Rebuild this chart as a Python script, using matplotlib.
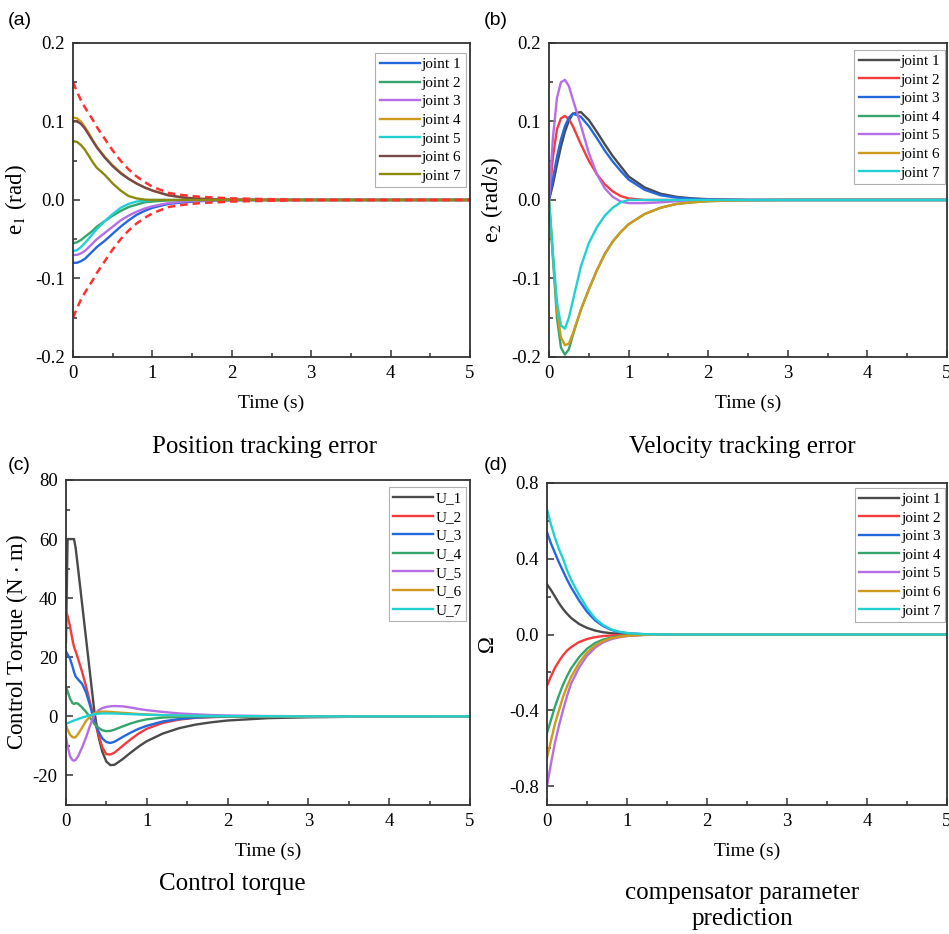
"""
Tracking error, control torque and compensator plots (4 panels)
"""

import matplotlib.pyplot as plt
from matplotlib.ticker import MultipleLocator

plt.rcParams['font.family'] = ['Liberation Serif', 'DejaVu Serif']
plt.rcParams['mathtext.fontset'] = 'stix'
plt.rcParams['axes.unicode_minus'] = False

# ---- data ----
t_a = [0, 0.05, 0.1, 0.15, 0.2, 0.25, 0.3, 0.4, 0.5, 0.6, 0.7, 0.8, 0.9,
       1.0, 1.2, 1.4, 1.6, 1.8, 2.0, 2.5, 3.0, 5.0]

e1_joint1 = [-0.080, -0.080, -0.078, -0.075, -0.070, -0.065, -0.060, -0.052, -0.043, -0.034, -0.026,
             -0.019, -0.014, -0.010, -0.005, -0.003, -0.0015, -0.0007, -0.0003, 0, 0, 0]
e1_joint2 = [-0.055, -0.054, -0.051, -0.047, -0.043, -0.039, -0.034, -0.027, -0.020, -0.014, -0.009,
             -0.006, -0.003, -0.002, -0.0005, 0, 0, 0, 0, 0, 0, 0]
e1_joint3 = [-0.070, -0.070, -0.068, -0.065, -0.060, -0.055, -0.050, -0.042, -0.034, -0.026, -0.020,
             -0.015, -0.011, -0.008, -0.004, -0.002, -0.001, -0.0005, 0, 0, 0, 0]
e1_joint4 = [0.105, 0.104, 0.100, 0.093, 0.085, 0.076, 0.068, 0.055, 0.044, 0.035, 0.027,
             0.021, 0.016, 0.012, 0.006, 0.003, 0.0015, 0.0007, 0.0003, 0, 0, 0]
e1_joint5 = [-0.065, -0.064, -0.060, -0.055, -0.049, -0.043, -0.037, -0.027, -0.018, -0.010, -0.005,
             -0.002, -0.001, 0, 0, 0, 0, 0, 0, 0, 0, 0]
e1_joint6 = [0.100, 0.100, 0.097, 0.091, 0.083, 0.075, 0.067, 0.054, 0.043, 0.034, 0.027,
             0.021, 0.016, 0.012, 0.006, 0.003, 0.0015, 0.0007, 0.0003, 0, 0, 0]
e1_joint7 = [0.075, 0.074, 0.070, 0.064, 0.056, 0.048, 0.041, 0.032, 0.021, 0.012, 0.005,
             0.002, 0.0005, 0, 0, 0, 0, 0, 0, 0, 0, 0]
e1_bound = [0.150, 0.138, 0.127, 0.118, 0.110, 0.102, 0.093, 0.078, 0.063, 0.050, 0.039,
            0.030, 0.023, 0.017, 0.009, 0.006, 0.004, 0.003, 0.002, 0.001, 0, 0]

t_b = t_a
e2_joint1 = [0, 0.020, 0.045, 0.068, 0.087, 0.101, 0.110, 0.112, 0.102, 0.087, 0.071,
             0.056, 0.043, 0.030, 0.016, 0.008, 0.004, 0.002, 0.001, 0, 0, 0]
e2_joint2 = [0, 0.055, 0.090, 0.104, 0.107, 0.103, 0.094, 0.071, 0.050, 0.033, 0.020,
             0.011, 0.005, 0.002, 0, 0, 0, 0, 0, 0, 0, 0]
e2_joint3 = [0, 0.027, 0.055, 0.077, 0.094, 0.105, 0.110, 0.106, 0.094, 0.079, 0.063,
             0.049, 0.037, 0.026, 0.013, 0.006, 0.003, 0.0015, 0.0005, 0, 0, 0]
e2_joint4 = [0, -0.075, -0.150, -0.188, -0.197, -0.190, -0.172, -0.140, -0.114, -0.090, -0.069,
             -0.053, -0.041, -0.031, -0.018, -0.010, -0.005, -0.003, -0.0015, -0.0003, 0, 0]
e2_joint5 = [0, 0.080, 0.130, 0.150, 0.153, 0.145, 0.128, 0.095, 0.060, 0.033, 0.015,
             0.004, -0.002, -0.004, -0.004, -0.003, -0.0015, -0.0005, 0, 0, 0, 0]
e2_joint6 = [0, -0.070, -0.140, -0.175, -0.185, -0.183, -0.170, -0.140, -0.114, -0.090, -0.069,
             -0.053, -0.041, -0.031, -0.018, -0.010, -0.005, -0.003, -0.0015, -0.0003, 0, 0]
e2_joint7 = [0, -0.070, -0.130, -0.160, -0.164, -0.150, -0.128, -0.085, -0.055, -0.035, -0.020,
             -0.010, -0.003, 0, 0, 0, 0, 0, 0, 0, 0, 0]

t_c = [0, 0.02, 0.05, 0.08, 0.1, 0.12, 0.15, 0.2, 0.25, 0.3, 0.35, 0.4, 0.45, 0.5, 0.55,
       0.6, 0.7, 0.8, 0.9, 1.0, 1.2, 1.4, 1.6, 1.8, 2.0, 2.5, 3.0, 3.5, 4.0, 5.0]
U_1 = [25, 60, 60, 60, 60, 57, 50, 38, 26, 14, 2, -6.5, -12, -15.3, -16.5,
       -16.4, -14.5, -12.3, -10.2, -8.4, -5.8, -4.0, -2.8, -2.0, -1.4, -0.6, -0.3, -0.15, -0.08, 0]
U_2 = [35.5, 34, 30.5, 26, 23.5, 22, 19.5, 15, 10, 4.5, -1, -6, -10.5, -12.8, -12.9,
       -12.3, -10, -7.8, -5.8, -4.2, -2.2, -1.1, -0.5, -0.25, -0.1, 0, 0, 0, 0, 0]
U_3 = [22, 21, 19.5, 17, 15, 13.5, 12.5, 11, 8, 3.5, -1.5, -5, -7.5, -8.7, -9,
       -8.6, -7, -5.5, -4.2, -3.2, -1.7, -0.9, -0.4, -0.2, -0.1, 0, 0, 0, 0, 0]
U_4 = [10, 8.5, 6, 4.5, 4.2, 4.5, 4.3, 3, 1.5, -0.5, -2.5, -3.8, -4.7, -5, -4.9,
       -4.5, -3.4, -2.4, -1.6, -1.0, -0.4, -0.15, -0.05, 0, 0, 0, 0, 0, 0, 0]
U_5 = [-7, -10, -13.5, -14.8, -15, -14.7, -13.5, -10.5, -7, -3, 0.5, 2, 2.8, 3.2, 3.4,
       3.5, 3.4, 3.0, 2.5, 2.1, 1.5, 1.0, 0.7, 0.45, 0.3, 0.1, 0.05, 0, 0, 0]
U_6 = [-3, -4.5, -6.2, -7, -7.2, -7, -6, -3.8, -1.5, 0, 1, 1.5, 1.6, 1.6, 1.5,
       1.4, 1.2, 1.0, 0.8, 0.65, 0.4, 0.25, 0.15, 0.1, 0.05, 0, 0, 0, 0, 0]
U_7 = [-2.5, -2.3, -2.0, -1.6, -1.4, -1.2, -0.9, -0.4, 0, 0.4, 0.7, 0.9, 1.0, 1.0, 1.0,
       0.95, 0.85, 0.75, 0.65, 0.55, 0.4, 0.3, 0.2, 0.15, 0.1, 0.05, 0, 0, 0, 0]

t_d = [0, 0.05, 0.1, 0.15, 0.2, 0.25, 0.3, 0.4, 0.5, 0.6, 0.7, 0.8, 0.9, 1.0,
       1.2, 1.4, 1.6, 2.0, 3.0, 5.0]
om_joint1 = [0.265, 0.235, 0.200, 0.165, 0.135, 0.110, 0.088, 0.056, 0.035, 0.021, 0.012,
             0.007, 0.004, 0.002, 0, 0, 0, 0, 0, 0]
om_joint2 = [-0.27, -0.22, -0.175, -0.14, -0.11, -0.085, -0.067, -0.040, -0.024, -0.014, -0.008,
             -0.005, -0.003, -0.0015, 0, 0, 0, 0, 0, 0]
om_joint3 = [0.54, 0.48, 0.43, 0.38, 0.335, 0.29, 0.25, 0.18, 0.12, 0.075, 0.045,
             0.025, 0.013, 0.007, 0.002, 0.0005, 0, 0, 0, 0]
om_joint4 = [-0.52, -0.45, -0.38, -0.32, -0.265, -0.22, -0.18, -0.12, -0.075, -0.045, -0.027,
             -0.016, -0.009, -0.005, -0.0015, 0, 0, 0, 0, 0]
om_joint5 = [-0.80, -0.68, -0.57, -0.48, -0.40, -0.325, -0.26, -0.175, -0.112, -0.07, -0.042,
             -0.025, -0.015, -0.008, -0.0025, -0.0005, 0, 0, 0, 0]
om_joint6 = [-0.65, -0.56, -0.47, -0.40, -0.33, -0.275, -0.225, -0.15, -0.095, -0.058, -0.035,
             -0.020, -0.012, -0.007, -0.002, 0, 0, 0, 0, 0]
om_joint7 = [0.66, 0.58, 0.51, 0.45, 0.40, 0.34, 0.29, 0.21, 0.14, 0.085, 0.05,
             0.028, 0.015, 0.008, 0.002, 0.0005, 0, 0, 0, 0]

joint_names = ["joint 1", "joint 2", "joint 3", "joint 4", "joint 5", "joint 6", "joint 7"]
torque_names = ["U_1", "U_2", "U_3", "U_4", "U_5", "U_6", "U_7"]

# colours
gray = "#4a4a4a"
red = "#f53b3b"
blue = "#2468e0"
green = "#35a56c"
purple = "#b66ee6"
gold = "#d09a1c"
cyan = "#22d0d2"
brown = "#7a4848"
olive = "#8c8a0e"

colors_a = [blue, green, purple, gold, cyan, brown, olive]
colors_std = [gray, red, blue, green, purple, gold, cyan]

fig = plt.figure(figsize=(9.49, 9.34), dpi=100)
ax_a = fig.add_axes([0.0769, 0.6178, 0.4184, 0.3362])
ax_b = fig.add_axes([0.5785, 0.6178, 0.4194, 0.3362])
ax_c = fig.add_axes([0.0695, 0.1381, 0.4258, 0.3480])
ax_d = fig.add_axes([0.5764, 0.1381, 0.4215, 0.3448])


def style_axes(ax, ylim, ymajor, yminor, ylabel, fmt, leg_anchor, ylabelpad=4):
    """common look of each panel"""
    ax.set_xlim(0, 5)
    ax.set_ylim(*ylim)
    ax.xaxis.set_major_locator(MultipleLocator(1))
    ax.xaxis.set_minor_locator(MultipleLocator(0.5))
    ax.yaxis.set_major_locator(MultipleLocator(ymajor))
    ax.yaxis.set_minor_locator(MultipleLocator(yminor))
    ax.yaxis.set_major_formatter(fmt)
    ax.tick_params(which='both', direction='in', top=False, right=False,
                   labelsize=13.5, width=1.1, colors='#333333', labelcolor='black')
    ax.tick_params(which='major', length=5, pad=6)
    ax.tick_params(which='minor', length=3)
    for sp in ax.spines.values():
        sp.set_linewidth(1.3)
        sp.set_color('#333333')
    ax.set_xlabel("Time (s)", fontsize=14, labelpad=9)
    ax.set_ylabel(ylabel, fontsize=16.5, labelpad=ylabelpad)
    leg = ax.legend(loc='upper right', bbox_to_anchor=leg_anchor, borderaxespad=0,
                    fontsize=11, handlelength=2.6, handletextpad=0.15,
                    labelspacing=0.32, borderpad=0.3,
                    fancybox=False, framealpha=1)
    leg.get_frame().set_edgecolor('#b0b0b0')
    leg.get_frame().set_linewidth(0.8)


lw = 1.7

# (a) position tracking error
e1_series = [e1_joint1, e1_joint2, e1_joint3, e1_joint4, e1_joint5, e1_joint6, e1_joint7]
for vals, c, name in zip(e1_series, colors_a, joint_names):
    ax_a.plot(t_a, vals, color=c, lw=lw, label=name)
ax_a.plot(t_a, e1_bound, color='#ff3030', lw=1.8, ls=(0, (3, 2)))
ax_a.plot(t_a, [-v for v in e1_bound], color='#ff3030', lw=1.8, ls=(0, (3, 2)))
style_axes(ax_a, (-0.2, 0.2), 0.1, 0.05, r"e$_1$ (rad)", '{x:.1f}', (0.990, 0.968))

# (b) velocity tracking error
e2_series = [e2_joint1, e2_joint2, e2_joint3, e2_joint4, e2_joint5, e2_joint6, e2_joint7]
for vals, c, name in zip(e2_series, colors_std, joint_names):
    ax_b.plot(t_b, vals, color=c, lw=lw, label=name)
style_axes(ax_b, (-0.2, 0.2), 0.1, 0.05, r"e$_2$ (rad/s)", '{x:.1f}', (0.995, 0.978))

# (c) control torque
u_series = [U_1, U_2, U_3, U_4, U_5, U_6, U_7]
for vals, c, name in zip(u_series, colors_std, torque_names):
    ax_c.plot(t_c, vals, color=c, lw=lw, label=name)
style_axes(ax_c, (-30, 80), 20, 10, "Control Torque (N $\\cdot$ m)", '{x:.0f}',
           (0.990, 0.978), ylabelpad=2)

# (d) compensator parameter
om_series = [om_joint1, om_joint2, om_joint3, om_joint4, om_joint5, om_joint6, om_joint7]
for vals, c, name in zip(om_series, colors_std, joint_names):
    ax_d.plot(t_d, vals, color=c, lw=lw, label=name)
style_axes(ax_d, (-0.9, 0.8), 0.4, 0.2, "Ω", '{x:.1f}', (0.996, 0.985), ylabelpad=8)

# panel letters
for x, y, s in [(0.008, 0.978, "(a)"), (0.510, 0.978, "(b)"),
                (0.008, 0.502, "(c)"), (0.510, 0.502, "(d)")]:
    fig.text(x, y, s, fontsize=14, family=['Liberation Sans', 'DejaVu Sans'], va='center')

# captions under each panel
fig.text(0.279, 0.5214, "Position tracking error", fontsize=18, ha='center', va='center')
fig.text(0.782, 0.5214, "Velocity tracking error", fontsize=18, ha='center', va='center')
fig.text(0.2445, 0.054, "Control torque", fontsize=18, ha='center', va='center')
fig.text(0.782, 0.030, "compensator parameter\nprediction", fontsize=18, ha='center',
         va='center', linespacing=1.2)

fig.savefig("out.png", dpi=100)
